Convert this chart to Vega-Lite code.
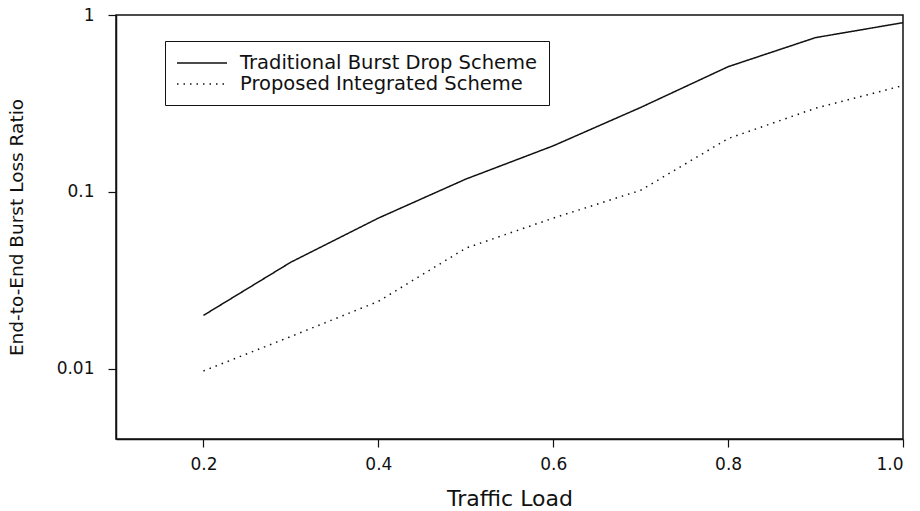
{
  "$schema": "https://vega.github.io/schema/vega-lite/v6.json",
  "width": 787,
  "height": 424,
  "autosize": {"type": "none"},
  "padding": {"left": 116, "top": 15, "right": 17, "bottom": 72},
  "background": "white",
  "config": {
    "view": {"stroke": "#111", "strokeWidth": 1.5},
    "font": "DejaVu Sans",
    "axis": {
      "grid": false,
      "domainColor": "#111",
      "domainWidth": 1.5,
      "tickColor": "#111",
      "tickWidth": 1.2,
      "tickSize": 8,
      "labelFont": "DejaVu Sans",
      "labelFontSize": 17,
      "labelColor": "#111",
      "titleFont": "DejaVu Sans",
      "titleFontWeight": "normal",
      "titleColor": "#111"
    }
  },
  "data": {
    "values": [
      {"load": 0.2, "ratio": 0.02, "scheme": "Traditional Burst Drop Scheme"},
      {"load": 0.3, "ratio": 0.04, "scheme": "Traditional Burst Drop Scheme"},
      {"load": 0.4, "ratio": 0.071, "scheme": "Traditional Burst Drop Scheme"},
      {"load": 0.5, "ratio": 0.118, "scheme": "Traditional Burst Drop Scheme"},
      {"load": 0.6, "ratio": 0.182, "scheme": "Traditional Burst Drop Scheme"},
      {"load": 0.7, "ratio": 0.3, "scheme": "Traditional Burst Drop Scheme"},
      {"load": 0.8, "ratio": 0.51, "scheme": "Traditional Burst Drop Scheme"},
      {"load": 0.9, "ratio": 0.745, "scheme": "Traditional Burst Drop Scheme"},
      {"load": 1.0, "ratio": 0.905, "scheme": "Traditional Burst Drop Scheme"},
      {"load": 0.2, "ratio": 0.0097, "scheme": "Proposed Integrated Scheme"},
      {"load": 0.3, "ratio": 0.0152, "scheme": "Proposed Integrated Scheme"},
      {"load": 0.4, "ratio": 0.024, "scheme": "Proposed Integrated Scheme"},
      {"load": 0.5, "ratio": 0.048, "scheme": "Proposed Integrated Scheme"},
      {"load": 0.6, "ratio": 0.071, "scheme": "Proposed Integrated Scheme"},
      {"load": 0.7, "ratio": 0.102, "scheme": "Proposed Integrated Scheme"},
      {"load": 0.8, "ratio": 0.2, "scheme": "Proposed Integrated Scheme"},
      {"load": 0.9, "ratio": 0.297, "scheme": "Proposed Integrated Scheme"},
      {"load": 1.0, "ratio": 0.399, "scheme": "Proposed Integrated Scheme"}
    ]
  },
  "mark": {"type": "line", "color": "#111", "strokeWidth": 1.5, "clip": true},
  "encoding": {
    "x": {
      "field": "load",
      "type": "quantitative",
      "scale": {"domain": [0.1, 1.0], "nice": false, "zero": false},
      "axis": {
        "title": "Traffic Load",
        "titleFontSize": 22,
        "titlePadding": 16,
        "values": [0.2, 0.4, 0.6, 0.8, 1.0],
        "format": ".1f",
        "labelPadding": 9
      }
    },
    "y": {
      "field": "ratio",
      "type": "quantitative",
      "scale": {"type": "log", "domain": [0.004, 1], "nice": false},
      "axis": {
        "title": "End-to-End Burst Loss Ratio",
        "titleFontSize": 18.5,
        "titlePadding": 30,
        "values": [0.01, 0.1, 1],
        "format": "~g",
        "labelPadding": 14
      }
    },
    "strokeDash": {
      "field": "scheme",
      "type": "nominal",
      "scale": {
        "domain": ["Traditional Burst Drop Scheme", "Proposed Integrated Scheme"],
        "range": [[1, 0], [1.5, 5]]
      },
      "legend": {
        "title": null,
        "orient": "none",
        "legendX": 49,
        "legendY": 26,
        "strokeColor": "#111",
        "fillColor": "white",
        "padding": 11,
        "symbolType": "M-1,0H4",
        "symbolSize": 400,
        "symbolStrokeWidth": 1.5,
        "symbolStrokeColor": "#111",
        "labelFont": "DejaVu Sans",
        "labelFontSize": 19.5,
        "labelColor": "#111",
        "labelOffset": 42,
        "labelLimit": 400,
        "rowPadding": 0
      }
    }
  }
}
